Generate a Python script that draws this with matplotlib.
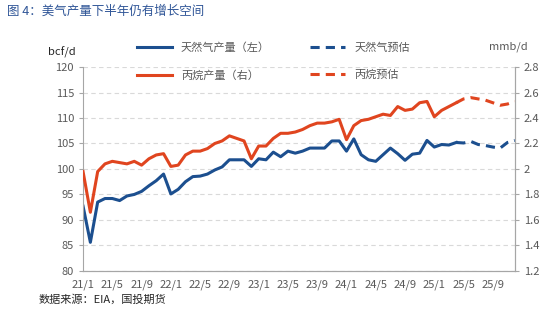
import matplotlib.pyplot as plt

plt.rcParams['font.family'] = ['Noto Sans CJK SC', 'DejaVu Sans']

# monthly, 21/1 .. 25/12
months = [f"{y}/{m}" for y in range(21, 26) for m in range(1, 13)]
gas_actual = [92.7, 85.6, 93.5, 94.2, 94.2, 93.8, 94.7, 95.0, 95.6, 96.7, 97.7, 99.0,
              95.1, 96.0, 97.5, 98.5, 98.6, 99.0, 99.8, 100.4, 101.8, 101.8, 101.8, 100.5,
              102.0, 101.8, 103.3, 102.4, 103.5, 103.1, 103.5, 104.1, 104.1, 104.1, 105.5, 105.5,
              103.5, 105.9, 102.8, 101.8, 101.5, 102.8, 104.1, 103.0, 101.7, 102.9, 103.1, 105.6,
              104.3, 104.8, 104.7, 105.2]
gas_forecast = [105.2, 105.1, 105.4, 104.8, 104.6, 104.3, 104.1, 105.2, 105.6]
propane_actual = [1.98, 1.66, 1.98, 2.04, 2.06, 2.05, 2.04, 2.06, 2.03, 2.08, 2.11, 2.12,
                  2.02, 2.03, 2.11, 2.14, 2.14, 2.16, 2.20, 2.22, 2.26, 2.24, 2.22, 2.08,
                  2.18, 2.18, 2.24, 2.28, 2.28, 2.29, 2.31, 2.34, 2.36, 2.36, 2.37, 2.39,
                  2.23, 2.34, 2.38, 2.39, 2.41, 2.43, 2.42, 2.49, 2.46, 2.47, 2.52, 2.53,
                  2.41, 2.46, 2.49, 2.52]
propane_forecast = [2.52, 2.55, 2.56, 2.55, 2.54, 2.52, 2.50, 2.51, 2.53]

blue = '#1c4f8f'
red = '#e0451f'
grey = '#595959'

x_act = list(range(len(gas_actual)))
x_fc = list(range(len(gas_actual) - 1, len(months)))

fig = plt.figure(figsize=(5.5, 3.24), dpi=100)
ax = fig.add_axes([0.151, 0.164, 0.785, 0.629])
ax2 = ax.twinx()

l1, = ax.plot(x_act, gas_actual, color=blue, lw=2.2, label='天然气产量（左）')
l2, = ax.plot(x_fc, gas_forecast, color=blue, lw=2.2, ls=(0, (3, 2)), label='天然气预估')
l3, = ax2.plot(x_act, propane_actual, color=red, lw=2.2, label='丙烷产量（右）')
l4, = ax2.plot(x_fc, propane_forecast, color=red, lw=2.2, ls=(0, (3, 2)), label='丙烷预估')

ax.set_xlim(0, len(months) - 1)
ax.set_ylim(80, 120)
ax.set_yticks(range(80, 121, 5))
ax2.set_ylim(1.2, 2.8)
ax2.set_yticks([1.2, 1.4, 1.6, 1.8, 2.0, 2.2, 2.4, 2.6, 2.8])
ax2.set_yticklabels(['1.2', '1.4', '1.6', '1.8', '2', '2.2', '2.4', '2.6', '2.8'])
ax.set_xticks(range(0, len(months), 4))
ax.set_xticklabels(months[::4])

ax.grid(axis='y', ls=(0, (4, 3)), color='#d9d9d9', lw=0.8)
for a in (ax, ax2):
    a.spines['top'].set_visible(False)
    for s in ['left', 'right', 'bottom']:
        a.spines[s].set_color('#a6a6a6')
    a.tick_params(labelsize=8, colors=grey, length=3, color='#a6a6a6')
ax.tick_params(axis='x', length=0, pad=6)
ax2.spines['left'].set_visible(False)

fig.text(0.113, 0.84, 'bcf/d', fontsize=8, color='#262626', ha='center', va='center')
fig.text(0.925, 0.855, 'mmb/d', fontsize=8, color=grey, ha='center', va='center')

fig.legend(handles=[l1, l3], loc='upper left', bbox_to_anchor=(0.23, 0.90),
           frameon=False, fontsize=8, handlelength=3.2, labelspacing=1.55, labelcolor=grey)
fig.legend(handles=[l2, l4], loc='upper left', bbox_to_anchor=(0.545, 0.90),
           frameon=False, fontsize=8, handlelength=3.2, labelspacing=1.55, labelcolor=grey)

fig.text(0.012, 0.955, '图 4：美气产量下半年仍有增长空间', fontsize=9, color='#2f5597')
fig.text(0.07, 0.065, '数据来源：EIA，国投期货', fontsize=8, color='#262626')

fig.savefig('out.png', dpi=100)
